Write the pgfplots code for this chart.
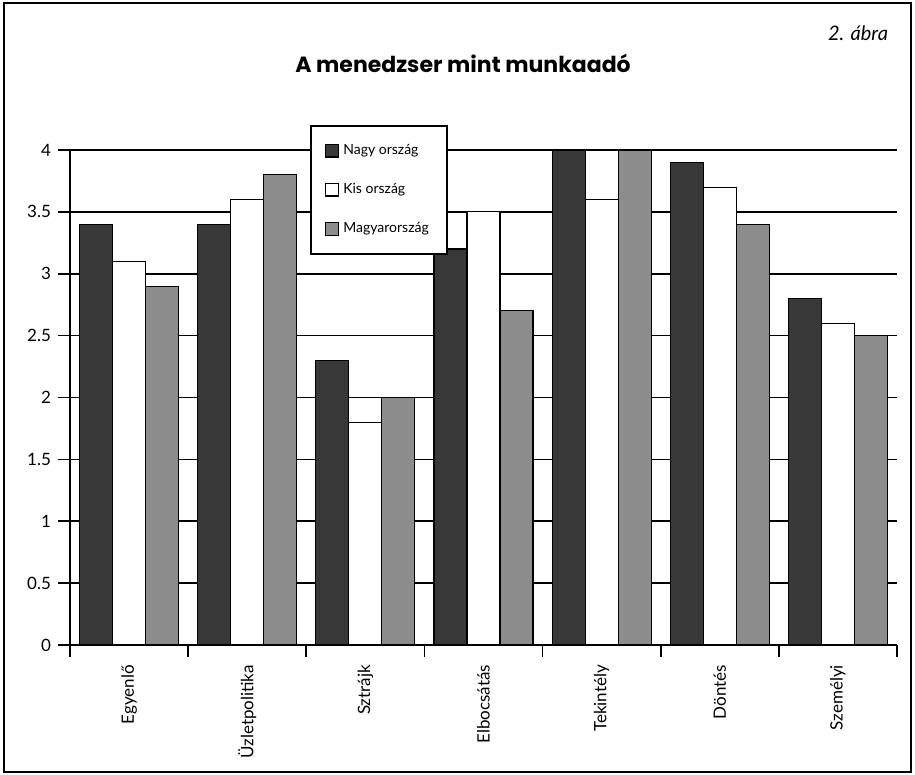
\documentclass[border=0pt]{standalone}
\usepackage{pgfplots}
\pgfplotsset{compat=1.18}
\usepackage{fontspec}
\setmainfont{Lato}
\newfontfamily\titlefont{Poppins}
\definecolor{darkbar}{HTML}{383838}
\definecolor{graybar}{HTML}{8C8C8C}
\begin{document}
\begin{tikzpicture}[x=1pt,y=1pt]
\useasboundingbox (0,0) rectangle (457.5,387.5);
\draw[line width=0.8pt] (2,1.5) rectangle (455.5,386);
\node[font=\titlefont\bfseries\fontsize{11}{13}\selectfont] at (231.5,356) {A menedzser mint munkaadó};
\node[anchor=east,font=\itshape\fontsize{10}{12}\selectfont] at (447.5,371) {2. ábra};
\begin{axis}[
  at={(35pt,65pt)}, anchor=south west,
  scale only axis, width=413.5pt, height=247.5pt,
  xmin=-0.5, xmax=6.5, ymin=0, ymax=4,
  axis x line*=bottom, axis y line*=left,
  axis line style={line width=1pt},
  ybar=0pt, bar width=16.5pt,
  ytick={0,0.5,...,4},
  yticklabels={0,0.5,1,1.5,2,2.5,3,3.5,4},
  ymajorgrids, grid style={black,line width=0.8pt},
  tick align=outside, major tick length=6pt,
  tick style={black,line width=0.8pt},
  xtick={-0.5,0.5,...,6.5},
  xticklabels={},
  extra x ticks={0,1,2,3,4,5,6},
  extra x tick labels={Egyenlő,Üzletpolitika,Sztrájk,Elbocsátás,Tekintély,Döntés,Személyi},
  extra x tick style={major tick length=0pt, tick style={draw=none},
    xticklabel style={rotate=90,anchor=east,font=\fontsize{8.5}{10}\selectfont,xshift=-6.5pt}},
  yticklabel style={font=\fontsize{8.5}{10}\selectfont},
  /pgf/number format/assume math mode=true,
  legend style={at={(0.29,1.05)},anchor=north west,draw=black,line width=0.9pt,fill=white,
    font=\fontsize{7}{8}\selectfont,row sep=9pt,inner xsep=7pt,inner ysep=7pt},
  legend cell align=left,
  legend image code/.code={\draw[#1,line width=0.8pt] (0pt,-3.2pt) rectangle (6.5pt,3.2pt);},
]
\addplot[fill=darkbar,draw=black,line width=0.6pt] coordinates {(0,3.4) (1,3.4) (2,2.3) (3,3.2) (4,4.0) (5,3.9) (6,2.8)};
\addplot[fill=white,draw=black,line width=0.6pt] coordinates {(0,3.1) (1,3.6) (2,1.8) (3,3.5) (4,3.6) (5,3.7) (6,2.6)};
\addplot[fill=graybar,draw=black,line width=0.6pt] coordinates {(0,2.9) (1,3.8) (2,2.0) (3,2.7) (4,4.0) (5,3.4) (6,2.5)};
\legend{Nagy ország,Kis ország,Magyarország}
\end{axis}
\end{tikzpicture}
\end{document}
